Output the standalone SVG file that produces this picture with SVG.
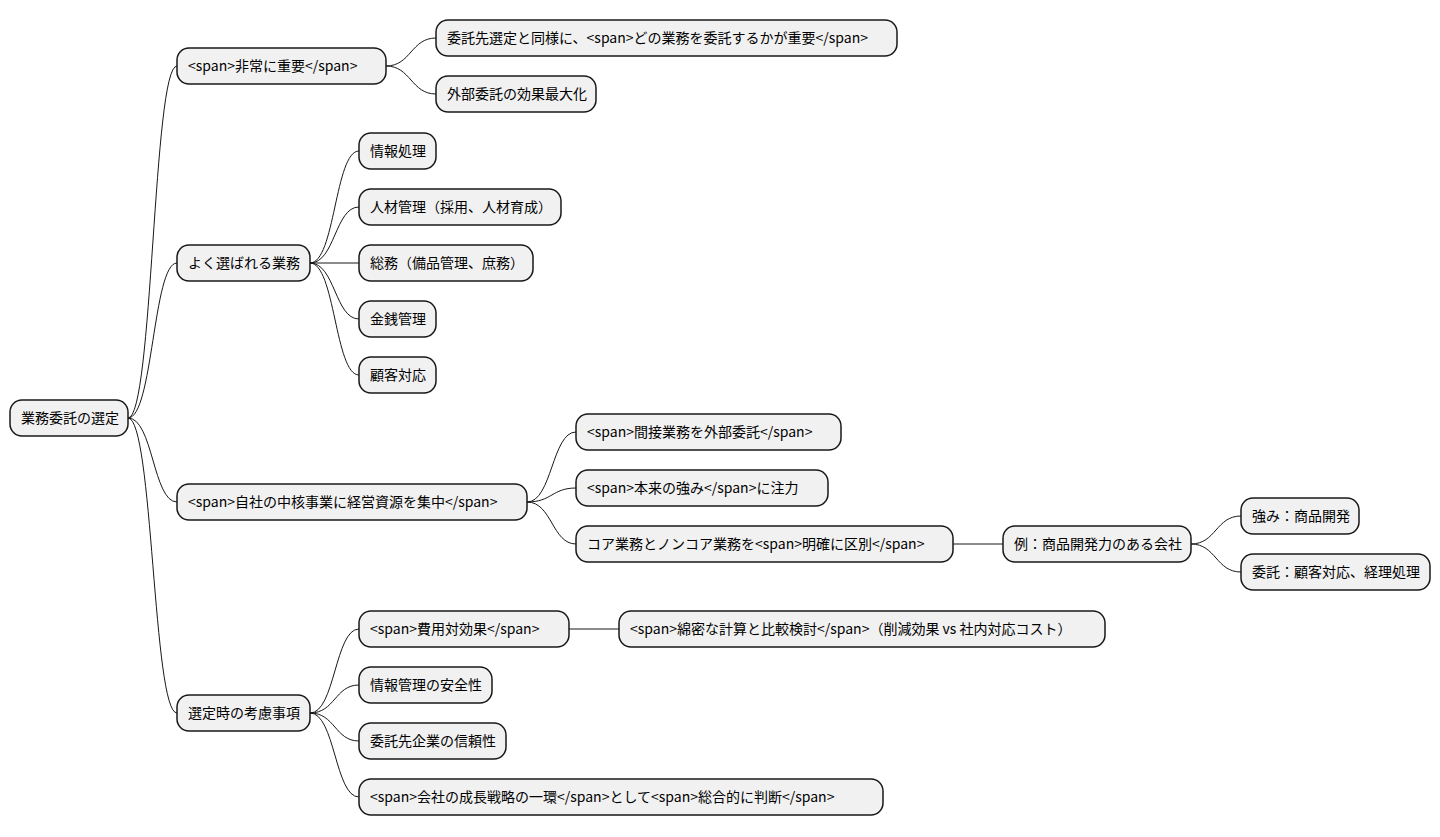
<svg xmlns="http://www.w3.org/2000/svg" width="1440" height="837" viewBox="0 0 1440 837">
<style>
rect{fill:#F1F1F1;stroke:#181818;stroke-width:1.5}
text{font-family:"Noto Sans CJK JP","Noto Sans",sans-serif;font-size:14px;fill:#000}
#edges path{fill:none;stroke:#181818;stroke-width:1}
</style>
<rect width="1440" height="837" style="fill:#fff;stroke:none"/>
<g id="edges">
<path d="M128,418 C153,418 153,66 177,66"/>
<path d="M128,418 C153,418 153,263 177,263"/>
<path d="M128,418 C153,418 153,502 177,502"/>
<path d="M128,418 C153,418 153,713 177,713"/>
<path d="M386,66 C411,66 411,38 436,38"/>
<path d="M386,66 C411,66 411,94 436,94"/>
<path d="M310,263 C335,263 335,151 359,151"/>
<path d="M310,263 C335,263 335,207 359,207"/>
<path d="M310,263 L359,263"/>
<path d="M310,263 C335,263 335,319 359,319"/>
<path d="M310,263 C335,263 335,375 359,375"/>
<path d="M527,502 C552,502 552,432 576,432"/>
<path d="M527,502 C552,502 552,488 576,488"/>
<path d="M527,502 C552,502 552,544 576,544"/>
<path d="M953,544 L1003,544"/>
<path d="M1191,544 C1216,544 1216,516 1241,516"/>
<path d="M1191,544 C1216,544 1216,572 1241,572"/>
<path d="M310,713 C335,713 335,629 359,629"/>
<path d="M310,713 C335,713 335,685 359,685"/>
<path d="M310,713 C335,713 335,741 359,741"/>
<path d="M310,713 C335,713 335,797 359,797"/>
<path d="M569,629 L619,629"/>
</g>
<g id="n0"><rect x="10" y="400" width="118" height="36" rx="12"/><text x="21" y="423">業務委託の選定</text></g>
<g id="n1"><rect x="177" y="48" width="209" height="36" rx="12"/><text x="188" y="71">&lt;span&gt;非常に重要&lt;/span&gt;</text></g>
<g id="n2"><rect x="177" y="245" width="133" height="36" rx="12"/><text x="188" y="268">よく選ばれる業務</text></g>
<g id="n3"><rect x="177" y="484" width="350" height="36" rx="12"/><text x="188" y="507">&lt;span&gt;自社の中核事業に経営資源を集中&lt;/span&gt;</text></g>
<g id="n4"><rect x="177" y="695" width="133" height="36" rx="12"/><text x="188" y="718">選定時の考慮事項</text></g>
<g id="n5"><rect x="436" y="20" width="461" height="36" rx="12"/><text x="447" y="43">委託先選定と同様に、&lt;span&gt;どの業務を委託するかが重要&lt;/span&gt;</text></g>
<g id="n6"><rect x="436" y="76" width="160" height="36" rx="12"/><text x="447" y="99">外部委託の効果最大化</text></g>
<g id="n7"><rect x="359" y="133" width="77" height="36" rx="12"/><text x="370" y="156">情報処理</text></g>
<g id="n8"><rect x="359" y="189" width="202" height="36" rx="12"/><text x="370" y="212">人材管理（採用、人材育成）</text></g>
<g id="n9"><rect x="359" y="245" width="174" height="36" rx="12"/><text x="370" y="268">総務（備品管理、庶務）</text></g>
<g id="n10"><rect x="359" y="301" width="77" height="36" rx="12"/><text x="370" y="324">金銭管理</text></g>
<g id="n11"><rect x="359" y="357" width="77" height="36" rx="12"/><text x="370" y="380">顧客対応</text></g>
<g id="n12"><rect x="576" y="414" width="265" height="36" rx="12"/><text x="587" y="437">&lt;span&gt;間接業務を外部委託&lt;/span&gt;</text></g>
<g id="n13"><rect x="576" y="470" width="252" height="36" rx="12"/><text x="587" y="493">&lt;span&gt;本来の強み&lt;/span&gt;に注力</text></g>
<g id="n14"><rect x="576" y="526" width="377" height="36" rx="12"/><text x="587" y="549">コア業務とノンコア業務を&lt;span&gt;明確に区別&lt;/span&gt;</text></g>
<g id="n15"><rect x="1003" y="526" width="188" height="36" rx="12"/><text x="1014" y="549">例：商品開発力のある会社</text></g>
<g id="n16"><rect x="1241" y="498" width="118" height="36" rx="12"/><text x="1252" y="521">強み：商品開発</text></g>
<g id="n17"><rect x="1241" y="554" width="189" height="36" rx="12"/><text x="1252" y="577">委託：顧客対応、経理処理</text></g>
<g id="n18"><rect x="359" y="611" width="210" height="36" rx="12"/><text x="370" y="634">&lt;span&gt;費用対効果&lt;/span&gt;</text></g>
<g id="n19"><rect x="619" y="611" width="486" height="36" rx="12"/><text x="630" y="634">&lt;span&gt;綿密な計算と比較検討&lt;/span&gt;（削減効果 vs 社内対応コスト）</text></g>
<g id="n20"><rect x="359" y="667" width="133" height="36" rx="12"/><text x="370" y="690">情報管理の安全性</text></g>
<g id="n21"><rect x="359" y="723" width="147" height="36" rx="12"/><text x="370" y="746">委託先企業の信頼性</text></g>
<g id="n22"><rect x="359" y="779" width="524" height="36" rx="12"/><text x="370" y="802">&lt;span&gt;会社の成長戦略の一環&lt;/span&gt;として&lt;span&gt;総合的に判断&lt;/span&gt;</text></g>
</svg>
